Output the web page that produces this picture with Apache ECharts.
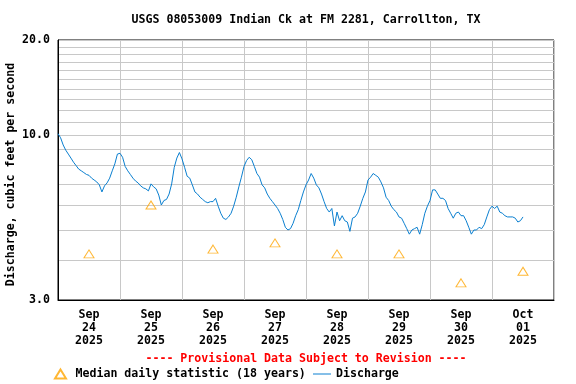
<!DOCTYPE html>
<html>
<head>
<meta charset="utf-8">
<script src="https://cdn.jsdelivr.net/npm/echarts@6/dist/echarts.min.js"></script>
<style>
html,body{margin:0;padding:0;background:#fff;}
#chart{width:576px;height:384px;}
</style>
</head>
<body>
<div id="chart"></div>
<script>
// ---- data ----
const chartTitle = 'USGS 08053009 Indian Ck at FM 2281, Carrollton, TX';
const yAxisTitle = 'Discharge, cubic feet per second';
const provisionalNote = '---- Provisional Data Subject to Revision ----';
const medianName = 'Median daily statistic (18 years)';
const dischargeName = 'Discharge';

// x tick labels (one per day, placed at noon)
const dayLabels = ['Sep\n24\n2025','Sep\n25\n2025','Sep\n26\n2025','Sep\n27\n2025',
                   'Sep\n28\n2025','Sep\n29\n2025','Sep\n30\n2025','Oct\n01\n2025'];
// y tick labels and grid values (cfs)
const yLabelValues = [3, 10, 20];
const yGridValues = [3,4,5,6,7,8,9,10,11,12,13,14,15,16,17,18,19,20];

// hourly discharge (cfs), starting 2025-09-24 00:00
const dischargeSep24 = [10.1,9.8,9.3,8.95,8.7,8.45,8.2,8.0,7.8,7.7,7.6,7.5,7.45,7.3,7.2,7.1,6.95,6.6,6.9,7.05,7.3,7.7,8.1,8.7];
const dischargeSep25 = [8.75,8.5,7.95,7.7,7.5,7.3,7.15,7.05,6.9,6.8,6.75,6.65,7.0,6.85,6.75,6.45,6.0,6.2,6.25,6.5,7.0,7.9,8.45,8.8];
const dischargeSep26 = [8.4,7.9,7.4,7.3,6.95,6.6,6.5,6.35,6.25,6.15,6.1,6.15,6.15,6.3,5.95,5.65,5.45,5.4,5.5,5.65,5.95,6.35,6.85,7.35];
const dischargeSep27 = [7.95,8.3,8.5,8.35,7.95,7.55,7.35,6.95,6.8,6.5,6.3,6.15,6.0,5.85,5.65,5.4,5.1,5.0,5.05,5.25,5.55,5.8,6.2,6.6];
const dischargeSep28 = [6.95,7.2,7.55,7.3,6.95,6.8,6.5,6.15,5.85,5.7,5.85,5.15,5.7,5.35,5.55,5.35,5.3,4.95,5.45,5.5,5.65,5.95,6.3,6.6];
const dischargeSep29 = [7.2,7.35,7.55,7.45,7.35,7.1,6.8,6.35,6.2,5.95,5.8,5.7,5.5,5.45,5.25,5.05,4.85,5.0,5.05,5.1,4.85,5.2,5.65,5.95];
const dischargeSep30 = [6.2,6.7,6.7,6.5,6.3,6.3,6.2,5.85,5.65,5.45,5.65,5.7,5.55,5.55,5.35,5.1,4.85,5.0,5.0,5.1,5.05,5.2,5.5,5.8];
const dischargeOct01 = [5.95,5.85,5.95,5.7,5.65,5.55,5.5,5.5,5.5,5.45,5.3,5.35,5.5];

// median daily statistic (cfs), one per day at noon
const medianValues = [4.2, 6.0, 4.35, 4.55, 4.2, 4.2, 3.4, 3.7];

// ---- build ----
const hourly = [].concat(dischargeSep24, dischargeSep25, dischargeSep26, dischargeSep27,
                         dischargeSep28, dischargeSep29, dischargeSep30, dischargeOct01);
const dischargeData = hourly.map((v, i) => [i, v]);
const medianData = medianValues.map((v, i) => [12 + 24 * i, v]);
const labelHours = dayLabels.map((_, i) => 12 + 24 * i);

const FONT = "'DejaVu Sans Mono', monospace";
const txt = {fontFamily: FONT, fontWeight: 'bold', fontSize: 11.6, color: '#000'};
const LINE_COLOR = '#0a7fd0';
const MEDIAN_COLOR = '#ffa500';

const chart = echarts.init(document.getElementById('chart'), null, {renderer: 'canvas'});
chart.setOption({
  animation: false,
  backgroundColor: '#fff',
  title: [
    {text: chartTitle, left: 306, textAlign: 'center', top: 14, padding: 0,
     textStyle: Object.assign({}, txt)},
    {text: provisionalNote, left: 306, textAlign: 'center', top: 353, padding: 0,
     textStyle: Object.assign({}, txt, {color: '#ff0000'})}
  ],
  grid: {left: 58, right: 22, top: 40, bottom: 84, show: true,
         outerBoundsMode: 'none', containLabel: false,
         borderColor: '#000', borderWidth: 1, backgroundColor: 'transparent'},
  legend: [
    {left: 54, top: 368, padding: 0, itemWidth: 20, itemHeight: 9,
     symbolKeepAspect: true,
     textStyle: Object.assign({}, txt),
     data: [{name: medianName, icon: 'path://M5.5,0 L11,9 L0,9 Z'}]},
    {left: 313, top: 368, padding: 0, itemWidth: 18, itemHeight: 9,
     textStyle: Object.assign({}, txt),
     data: [{name: dischargeName, icon: 'path://M0,4 L18,4 L18,5 L0,5 Z'}]}
  ],
  xAxis: {
    type: 'value', min: 0, max: 192, interval: 24,
    axisLine: {show: true, lineStyle: {color: '#000', width: 1}},
    axisTick: {show: false},
    splitLine: {show: true, lineStyle: {color: '#c8c8c8', width: 1}},
    axisLabel: Object.assign({}, txt, {
      customValues: labelHours, margin: 8, lineHeight: 13.2,
      formatter: v => dayLabels[Math.round((v - 12) / 24)]
    })
  },
  yAxis: {
    type: 'log', logBase: 10, min: 3, max: 20,
    name: yAxisTitle, nameLocation: 'middle', nameGap: 41, nameMoveOverlap: false,
    nameTextStyle: Object.assign({}, txt, {padding: [0, 9, 0, 0]}),
    axisLine: {show: true, lineStyle: {color: '#000', width: 1}},
    axisTick: {show: false, customValues: yGridValues},
    splitLine: {show: true, lineStyle: {color: '#c8c8c8', width: 1}},
    axisLabel: Object.assign({}, txt, {
      customValues: yLabelValues, margin: 8,
      formatter: v => Number(v).toFixed(1)
    })
  },
  series: [
    {name: medianName, type: 'scatter', data: medianData,
     symbol: 'triangle', symbolSize: [10, 8],
     itemStyle: {color: 'rgba(255,255,255,0)', borderColor: MEDIAN_COLOR, borderWidth: 1},
     z: 3},
    {name: dischargeName, type: 'line', data: dischargeData, symbol: 'none',
     lineStyle: {color: LINE_COLOR, width: 1}, itemStyle: {color: LINE_COLOR}, z: 2}
  ]
});
</script>
</body>
</html>
